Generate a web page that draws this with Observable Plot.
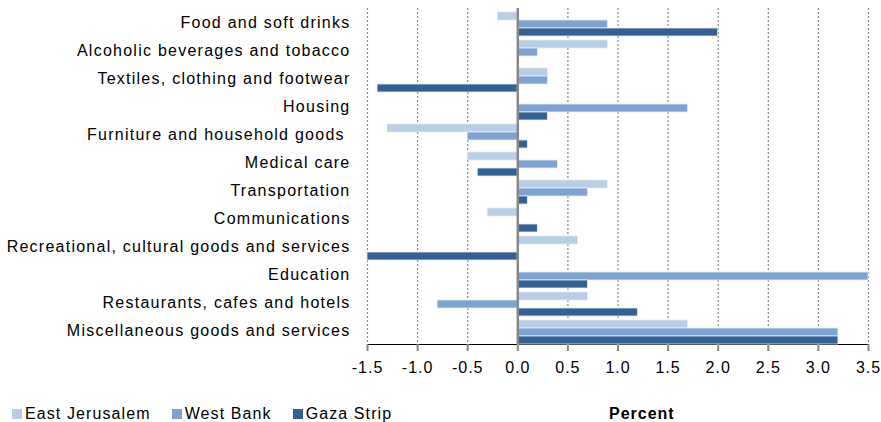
<!DOCTYPE html>
<html>
<head>
<meta charset="utf-8">
<script src="https://cdn.jsdelivr.net/npm/d3@7"></script>
<script src="https://cdn.jsdelivr.net/npm/@observablehq/plot@0.6"></script>
<style>
  body { margin: 0; background: #fff; }
  #wrap { position: relative; width: 881px; height: 422px; font-family: "Liberation Sans", Arial, sans-serif; }
  #wrap svg text { white-space: pre; letter-spacing: 1px; }
  #wrap svg [aria-label^="fy-axis"] text { letter-spacing: 1.25px; }
  #wrap svg [aria-label^="x-axis"] line, #wrap svg [aria-label^="x-axis"] path { stroke: #878787; stroke-width: 2px; }
  #legend { position: absolute; left: 12px; top: 404px; display: flex; gap: 21px; font-size: 16px; line-height: 20px; letter-spacing: 1.1px; color: #000; }
  #legend .item { display: flex; align-items: center; }
  #legend .sw { width: 10px; height: 10px; margin-right: 3px; }
  #xlabel { position: absolute; left: 609px; top: 404px; font-size: 16px; line-height: 20px; font-weight: bold; letter-spacing: 1px; }
</style>
</head>
<body>
<div id="wrap"></div>
<script>
const categories = [
  "Food and soft drinks",
  "Alcoholic beverages and tobacco",
  "Textiles, clothing and footwear",
  "Housing",
  "Furniture and household goods ",
  "Medical care",
  "Transportation",
  "Communications",
  "Recreational, cultural goods and services",
  "Education",
  "Restaurants, cafes and hotels",
  "Miscellaneous goods and services"
];
const seriesNames = ["East Jerusalem", "West Bank", "Gaza Strip"];
const eastJerusalem = [-0.2, 0.9, 0.3, null, -1.3, -0.5, 0.9, -0.3, 0.6, null, 0.7, 1.7];
const westBank      = [0.9, 0.2, 0.3, 1.7, -0.5, 0.4, 0.7, null, null, 3.5, -0.8, 3.2];
const gazaStrip     = [2.0, null, -1.4, 0.3, 0.1, -0.4, 0.1, 0.2, -1.5, 0.7, 1.2, 3.2];
const seriesColors  = ["#b9cde5", "#7ea3d0", "#366092"];
const xTicks = [-1.5, -1.0, -0.5, 0.0, 0.5, 1.0, 1.5, 2.0, 2.5, 3.0, 3.5];

const seriesValues = [eastJerusalem, westBank, gazaStrip];
const rows = categories.flatMap((c, i) =>
  seriesNames.map((s, j) => ({category: c, series: s, value: seriesValues[j][i]}))
).filter(d => d.value != null);

const chart = Plot.plot({
  width: 881,
  height: 390,
  marginLeft: 367,
  marginRight: 13,
  marginTop: 6,
  marginBottom: 44,
  style: {fontFamily: "'Liberation Sans', Arial, sans-serif", fontSize: "16px", color: "#000", background: "#fff"},
  x: {domain: [-1.5, 3.5], ticks: xTicks, tickFormat: d => d.toFixed(1), tickSize: 7, tickPadding: 10, line: true, label: null},
  y: {domain: seriesNames, paddingInner: 0, paddingOuter: 0.13, align: 1, axis: null},
  fy: {domain: categories, padding: 0, axis: "left", label: null, tickSize: 0, tickPadding: 17},
  color: {domain: seriesNames, range: seriesColors},
  facet: {data: rows, y: "category"},
  marks: [
    Plot.ruleX(xTicks, {x: d => d, stroke: "#8a8a8a", strokeWidth: 1.2, strokeDasharray: "2,2"}),
    Plot.barX(rows, {y: "series", x: "value", fill: "series", stroke: "#e6edf6", strokeWidth: 0.8}),
    Plot.ruleX([0], {stroke: "#878787", strokeWidth: 2.5})
  ]
});

const wrap = document.getElementById("wrap");
wrap.appendChild(chart);

const legend = d3.select(wrap).append("div").attr("id", "legend");
seriesNames.forEach((s, i) => {
  const item = legend.append("div").attr("class", "item");
  item.append("div").attr("class", "sw").style("background", seriesColors[i]);
  item.append("span").text(s);
});
d3.select(wrap).append("div").attr("id", "xlabel").text("Percent");
</script>
</body>
</html>
